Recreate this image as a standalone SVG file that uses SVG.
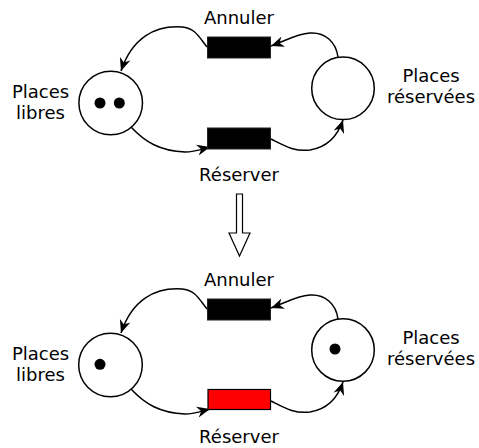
<svg xmlns="http://www.w3.org/2000/svg" width="479" height="448" viewBox="0 0 479 448">
<style>
.place{fill:#fff;stroke:#000;stroke-width:1.5}
.tok{fill:#000}
.tr{fill:#000;stroke:#222;stroke-width:1}
.tr-red{fill:#ff0000;stroke:#000;stroke-width:1.2}
.arc{fill:none;stroke:#000;stroke-width:1.5;marker-end:url(#ah)}
text{font-family:"DejaVu Sans",sans-serif;font-size:18px;fill:#000;text-anchor:middle}
</style>
<defs>
<marker id="ah" viewBox="-13 -6 14 12" refX="0" refY="0" markerWidth="14" markerHeight="12" orient="auto" markerUnits="userSpaceOnUse">
<path d="M0,0 L-13,-5.5 L-9,0 L-13,5.5 Z" fill="#000"/>
</marker>
</defs>
<rect width="479" height="448" fill="#fff"/>

<!-- Top net -->
<g id="top-connectors">
<path class="arc" d="M207,47 C199,37 195,28 182,27 C155,25 132,38 121,71"/>
<path class="arc" d="M338,57 C336,42 325,32 310,33 C296,34 285,41 271,46"/>
<path class="arc" d="M131,127 C145,142 160,151 185,152 C195,152 202,149 210,147"/>
<path class="arc" d="M271,139 C285,146 295,152 310,150 C328,147 338,135 343,120"/>
</g>
<g id="top-places-libres">
<circle class="place" cx="110.7" cy="103" r="31.8"/>
<circle class="tok" cx="100" cy="103" r="5.5"/>
<circle class="tok" cx="119.3" cy="103" r="5.5"/>
<text x="40.5" y="98">Places</text>
<text x="40.5" y="119">libres</text>
</g>
<g id="top-places-reservees">
<circle class="place" cx="343" cy="88.3" r="31.3"/>
<text x="431" y="82">Places</text>
<text x="431" y="103">réservées</text>
</g>
<g id="top-annuler">
<rect class="tr" x="207.5" y="37" width="63" height="21"/>
<text x="239" y="24">Annuler</text>
</g>
<g id="top-reserver">
<rect class="tr" x="207.5" y="128" width="63" height="21"/>
<text x="239" y="181">Réserver</text>
</g>

<!-- Transition arrow -->
<g id="step-arrow">
<path d="M236.5,194 L242.5,194 L242.5,233 L250,233 L239.5,256 L229,233 L236.5,233 Z" fill="#fff" stroke="#000" stroke-width="1.2"/>
</g>

<!-- Bottom net -->
<g id="bottom-connectors" transform="translate(0,262)">
<path class="arc" d="M207,47 C199,37 195,28 182,27 C155,25 132,38 121,71"/>
<path class="arc" d="M338,57 C336,42 325,32 310,33 C296,34 285,41 271,46"/>
<path class="arc" d="M131,127 C145,142 160,151 185,152 C195,152 202,149 210,147"/>
<path class="arc" d="M271,139 C285,146 295,152 310,150 C328,147 338,135 343,120"/>
</g>
<g id="bottom-places-libres">
<circle class="place" cx="110.5" cy="365" r="31.8"/>
<circle class="tok" cx="100" cy="364.3" r="5.5"/>
<text x="40.5" y="360">Places</text>
<text x="40.5" y="381">libres</text>
</g>
<g id="bottom-places-reservees">
<circle class="place" cx="343" cy="350" r="31.3"/>
<circle class="tok" cx="335" cy="349" r="5.5"/>
<text x="431" y="344">Places</text>
<text x="431" y="365">réservées</text>
</g>
<g id="bottom-annuler">
<rect class="tr" x="207.5" y="299" width="63" height="21"/>
<text x="239" y="286">Annuler</text>
</g>
<g id="bottom-reserver">
<rect class="tr-red" x="208" y="389.5" width="62.5" height="20"/>
<text x="239" y="443">Réserver</text>
</g>
</svg>
